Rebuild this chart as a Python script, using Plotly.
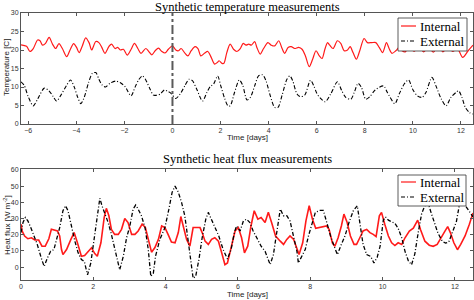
import plotly.graph_objects as go

# ---------------- data ----------------
# Top panel: temperature [C] vs time [days]
t_int = [-6.3, -6.07, -5.93, -5.79, -5.61, -5.51, -5.40, -5.28, -5.13, -4.99, -4.86, -4.72, -4.58,
         -4.40, -4.26, -4.11, -3.99, -3.88, -3.75, -3.61, -3.47, -3.36, -3.19, -3.06, -2.94, -2.81,
         -2.64, -2.53, -2.39, -2.28, -2.17, -2.04, -1.88, -1.72, -1.58, -1.44, -1.31, -1.11, -1.00,
         -0.86, -0.72, -0.58, -0.44, -0.31, -0.17, 0.0, 0.14, 0.25, 0.36, 0.50, 0.64, 0.78, 0.94,
         1.06, 1.18, 1.33, 1.47, 1.61, 1.75, 1.86, 1.94, 2.06, 2.14, 2.26, 2.40, 2.54, 2.68, 2.82,
         2.94, 3.06, 3.17, 3.28, 3.42, 3.51, 3.65, 3.79, 3.97, 4.11, 4.25, 4.42, 4.56, 4.67, 4.81,
         4.94, 5.08, 5.25, 5.39, 5.53, 5.69, 5.83, 5.97, 6.11, 6.22, 6.34, 6.45, 6.54, 6.68, 6.86,
         7.00, 7.14, 7.28, 7.39, 7.51, 7.65, 7.79, 7.97, 8.11, 8.29, 8.46, 8.60, 8.74, 8.90, 9.01,
         9.13, 9.29, 9.43, 9.55, 9.68, 9.85, 10.05, 10.25, 10.45, 10.65, 10.85, 11.05, 11.25,
         11.45, 11.65, 11.85, 12.07, 12.3, 12.5]
temp_int = [21.4, 21.0, 19.6, 20.4, 22.7, 22.5, 21.3, 21.8, 23.4, 21.6, 20.4, 21.7, 20.4,
            18.2, 20.0, 21.7, 20.7, 19.3, 21.1, 23.3, 22.0, 20.0, 22.3, 22.0, 20.7, 19.1,
            21.0, 21.6, 20.4, 20.7, 20.0, 20.2, 18.6, 20.2, 21.8, 20.4, 19.1, 20.4, 19.7,
            18.7, 19.8, 20.5, 19.6, 19.2, 20.2, 21.1, 20.0, 19.8, 20.4, 19.3, 18.4, 19.8, 20.9,
            20.4, 18.4, 19.1, 19.6, 18.0, 16.2, 16.6, 17.1, 16.4, 16.4, 19.3, 21.6, 20.2, 19.6, 20.4,
            21.8, 21.3, 21.6, 21.3, 22.3, 20.7, 18.9, 20.4, 22.0, 21.3, 21.1, 22.5, 20.4, 19.1, 20.7,
            20.9, 20.4, 20.7, 20.2, 18.4, 15.5, 17.5, 19.8, 18.4, 17.7, 20.2, 22.0, 21.3, 20.4, 22.5,
            21.8, 19.8, 20.0, 20.9, 19.3, 17.5, 19.8, 23.1, 22.0, 22.0, 22.0, 20.7, 19.3, 22.0, 20.4,
            19.1, 19.8, 20.7, 19.8, 19.5, 21.0, 19.6, 21.0, 19.5, 20.8, 19.4, 21.0, 19.5,
            20.8, 19.6, 20.4, 18.0, 19.8, 21.3]

t_ext = [-6.3, -6.17, -6.00, -5.79, -5.61, -5.33, -5.14, -4.96, -4.82, -4.64, -4.40, -4.24, -4.08,
         -3.94, -3.81, -3.67, -3.50, -3.33, -3.19, -3.06, -2.92, -2.78, -2.60, -2.36, -2.18, -1.97,
         -1.72, -1.56, -1.39, -1.25, -1.11, -0.93, -0.79, -0.65, -0.51, -0.33, -0.19, -0.06, 0.0,
         0.14, 0.32, 0.53, 0.69, 0.83, 1.01, 1.25, 1.43, 1.57, 1.71, 1.88, 2.01, 2.17, 2.31, 2.40,
         2.58, 2.78, 2.92, 3.10, 3.24, 3.42, 3.58, 3.75, 3.89, 4.07, 4.25, 4.39, 4.56, 4.76, 4.88,
         5.00, 5.18, 5.32, 5.50, 5.74, 5.88, 6.01, 6.15, 6.35, 6.58, 6.86, 7.04, 7.21, 7.42, 7.56,
         7.72, 7.86, 8.04, 8.21, 8.43, 8.78, 8.94, 9.25, 9.43, 9.64, 9.82, 9.99, 10.19, 10.38,
         10.54, 10.79, 10.96, 11.17, 11.38, 11.58, 11.79, 11.90, 12.04, 12.18, 12.35, 12.5]
temp_ext = [11.4, 10.5, 7.4, 4.9, 6.7, 9.7, 9.0, 7.4, 6.2, 7.8, 10.5, 11.9, 9.9,
            7.2, 5.5, 7.2, 11.0, 13.7, 13.9, 12.1, 10.5, 10.0, 11.0, 11.6, 11.2, 10.1,
            7.6, 9.9, 12.1, 13.0, 11.9, 9.4, 7.8, 7.8, 8.1, 9.2, 8.8, 8.3, 7.8,
            6.9, 8.1, 10.5, 12.1, 11.7, 9.4, 6.2, 8.5, 10.1, 10.8, 13.0, 10.3, 6.9, 4.9, 4.9,
            8.5, 11.9, 10.5, 6.5, 7.2, 10.3, 13.0, 13.3, 11.7, 7.6, 4.5, 4.5, 7.8, 12.1, 13.0,
            11.7, 8.1, 7.4, 7.8, 11.8, 10.3, 8.2, 7.0, 6.0, 8.1, 11.4, 9.0, 7.2, 6.7, 8.5,
            11.0, 9.9, 6.7, 7.4, 9.2, 10.3, 8.5, 5.5, 8.1, 10.8, 11.9, 9.4, 7.6, 7.2,
            8.5, 12.6, 10.3, 6.9, 4.9, 7.2, 8.5, 9.0, 7.2, 4.5, 3.1, 2.7]

event_day = 0  # vertical marker in the temperature panel

# Bottom panel: heat flux [W m^-2] vs time [days]
t_qint = [0.0, 0.03, 0.10, 0.19, 0.29, 0.38, 0.49, 0.58, 0.67, 0.77, 0.84, 0.93, 1.01, 1.07, 1.12,
          1.16, 1.26, 1.38, 1.47, 1.56, 1.67, 1.76, 1.86, 1.95, 2.04, 2.11, 2.21, 2.30, 2.36, 2.43,
          2.50, 2.59, 2.69, 2.78, 2.87, 2.96, 3.06, 3.15, 3.24, 3.35, 3.44, 3.54, 3.61, 3.70, 3.80,
          3.89, 3.98, 4.07, 4.16, 4.26, 4.35, 4.42, 4.49, 4.58, 4.67, 4.76, 4.86, 4.95, 5.01, 5.09,
          5.18, 5.27, 5.36, 5.46, 5.55, 5.64, 5.71, 5.83, 5.92, 6.01, 6.10, 6.18, 6.27, 6.36, 6.45,
          6.55, 6.64, 6.75, 6.84, 6.93, 7.04, 7.17, 7.26, 7.35, 7.44, 7.54, 7.63, 7.69, 7.79, 7.88,
          7.97, 8.06, 8.15, 8.27, 8.37, 8.45, 8.52, 8.61, 8.68, 8.77, 8.86, 8.93, 9.02, 9.11, 9.21,
          9.28, 9.37, 9.46, 9.56, 9.65, 9.74, 9.82, 9.91, 9.97, 10.06, 10.16, 10.25, 10.34, 10.43,
          10.53, 10.62, 10.74, 10.85, 10.97, 11.05, 11.17, 11.29, 11.40, 11.51, 11.61, 11.72, 11.80,
          11.88, 11.97, 12.07, 12.16, 12.28, 12.40, 12.5]
q_int = [26.5, 22.3, 19.2, 17.5, 18.1, 16.7, 16.7, 12.9, 12.9, 17.5, 23.3, 22.7, 22.3, 19.2, 10.8,
         7.7, 10.8, 17.1, 21.3, 15.0, 6.7, 7.1, 9.8, 11.9, 8.3, 6.7, 15.0, 30.6, 36.3, 31.7,
         23.3, 20.2, 20.2, 23.3, 30.0, 27.5, 20.2, 20.2, 22.3, 26.5, 24.4, 16.0, 9.2, 11.9, 17.1,
         25.4, 24.4, 20.0, 15.5, 15.0, 21.3, 31.2, 24.4, 17.1, 12.9, 24.4, 24.4, 24.4, 21.3, 16.0,
         14.0, 17.1, 18.1, 16.0, 8.8, 1.5, 2.5, 12.9, 22.3, 24.4, 18.1, 8.8, 12.9, 25.4, 34.8,
         29.6, 30.6, 27.5, 33.8, 27.5, 19.2, 16.0, 14.0, 17.1, 19.2, 17.1, 10.8, 7.7, 15.0, 28.5,
         37.9, 29.6, 24.0, 24.7, 24.9, 25.4, 23.3, 15.0, 12.9, 18.1, 25.4, 32.7, 27.5, 19.2, 14.0,
         14.0, 18.1, 22.3, 23.3, 21.3, 20.2, 18.8, 31.7, 33.8, 26.5, 19.2, 15.0, 13.3, 15.0,
         14.0, 18.1, 22.3, 24.0, 29.0, 23.0, 16.0, 13.5, 12.8, 14.0, 17.5, 22.0, 25.0,
         21.0, 15.0, 10.7, 14.0, 19.2, 26.5, 33.4]

t_qext = [0.0, 0.055, 0.12, 0.19, 0.27, 0.33, 0.45, 0.56, 0.64, 0.73, 0.82, 0.91, 0.98, 1.07, 1.16,
          1.23, 1.30, 1.39, 1.49, 1.58, 1.67, 1.75, 1.84, 1.93, 2.02, 2.11, 2.18, 2.24, 2.32, 2.41,
          2.50, 2.59, 2.67, 2.73, 2.83, 2.92, 3.01, 3.10, 3.17, 3.24, 3.33, 3.43, 3.52, 3.59, 3.66,
          3.72, 3.84, 3.98, 4.09, 4.18, 4.26, 4.35, 4.44, 4.53, 4.63, 4.70, 4.76, 4.83, 4.92, 5.01,
          5.11, 5.18, 5.27, 5.38, 5.47, 5.59, 5.71, 5.81, 5.90, 5.96, 6.06, 6.15, 6.24, 6.33, 6.42,
          6.52, 6.64, 6.75, 6.89, 6.98, 7.07, 7.17, 7.26, 7.35, 7.44, 7.54, 7.63, 7.67, 7.77, 7.86,
          7.95, 8.04, 8.14, 8.27, 8.36, 8.47, 8.56, 8.66, 8.75, 8.84, 8.96, 9.07, 9.19, 9.30, 9.37,
          9.46, 9.56, 9.67, 9.76, 9.85, 9.93, 10.02, 10.08, 10.16, 10.25, 10.34, 10.43, 10.53,
          10.62, 10.71, 10.80, 10.89, 10.99, 11.08, 11.16, 11.25, 11.35, 11.44, 11.53, 11.65,
          11.74, 11.83, 11.95, 12.04, 12.12, 12.22, 12.35, 12.5]
q_ext = [21.3, 27.5, 30.6, 28.5, 24.4, 21.3, 14.0, 5.6, 0.4, 5.6, 9.8, 10.8, 17.1, 24.4, 34.8,
         37.9, 34.8, 25.4, 16.0, 8.8, 4.6, 3.5, -4.8, 2.5, 16.0, 31.7, 42.5, 37.9, 32.7, 27.5,
         20.2, 10.8, 2.5, -1.7, 6.7, 18.1, 25.4, 35.8, 38.3, 35.8, 31.7, 24.4, 10.8, -5.8, -3.8,
         6.7, 17.1, 24.4, 35.8, 46.3, 50.0, 46.3, 40.0, 31.7, 15.0, 2.5, -6.9, -5.8, 4.6, 18.1,
         29.6, 33.8, 29.6, 24.4, 19.2, 10.8, 5.0, 10.8, 21.3, 25.4, 22.3, 28.5, 29.6, 27.5, 22.3,
         18.1, 12.9, 9.8, 1.5, 7.7, 21.3, 35.8, 31.7, 31.7, 28.5, 19.2, 9.8, 2.5, 6.7, 10.8,
         19.2, 26.5, 33.8, 35.0, 35.0, 26.5, 19.2, 12.9, 7.7, 12.9, 19.2, 27.5, 34.8, 37.9, 26.5,
         14.0, 7.7, 6.6, 2.5, 6.0, 12.8, 29.0, 31.0, 29.0, 28.0, 27.0, 24.0, 18.0,
         9.7, 4.0, 1.4, 8.0, 22.0, 33.0, 37.5, 40.0, 33.0, 27.0, 21.0, 16.0,
         14.8, 15.5, 22.0, 28.0, 38.0, 40.0, 36.0, 31.0]

temp_ticks = [0, 5, 10, 15, 20, 25, 30]
temp_days = [-6, -4, -2, 0, 2, 4, 6, 8, 10, 12]
flux_ticks = [0, 10, 20, 30, 40, 50, 60]
flux_days = [0, 2, 4, 6, 8, 10, 12]
series_names = ["Internal", "External"]

# ---------------- figure ----------------
RED = "#ff1a1a"
DASHDOT = "4px,2px,1px,2px"
SERIF = "Liberation Serif, Times New Roman, serif"
SANS = "Liberation Sans, Arial, sans-serif"

# pixel geometry of the page (474 x 300) -> paper coordinates
L, R, T, B = 21, 473, 13, 280
def px(xp):
    return (xp - L) / (R - L)
def py(yp):
    return (B - yp) / (B - T)

fig = go.Figure()
fig.add_trace(go.Scatter(x=t_int, y=temp_int, name=series_names[0], mode="lines",
                         line=dict(color=RED, width=1.2, shape="spline", smoothing=0.8),
                         xaxis="x", yaxis="y"))
fig.add_trace(go.Scatter(x=t_ext, y=temp_ext, name=series_names[1], mode="lines",
                         line=dict(color="black", width=1.1, dash=DASHDOT, shape="spline", smoothing=0.8),
                         xaxis="x", yaxis="y"))
fig.add_trace(go.Scatter(x=t_qint, y=q_int, name=series_names[0], mode="lines",
                         line=dict(color=RED, width=1.6),
                         xaxis="x2", yaxis="y2"))
fig.add_trace(go.Scatter(x=t_qext, y=q_ext, name=series_names[1], mode="lines",
                         line=dict(color="black", width=1.3, dash=DASHDOT),
                         xaxis="x2", yaxis="y2"))

shapes = [dict(type="line", xref="x", yref="y domain", x0=event_day, x1=event_day, y0=0, y1=1,
               line=dict(color="#5a5a5a", width=2, dash="dashdot"))]
annotations = []

# legends drawn as boxes (one per panel)
for (bx0, bx1, by0, by1, rows) in [(398, 467, 18, 51, (26, 41)), (398, 466, 175, 206, (182, 197))]:
    shapes.append(dict(type="rect", xref="paper", yref="paper", x0=px(bx0), x1=px(bx1),
                       y0=py(by1), y1=py(by0), fillcolor="white",
                       line=dict(color="#333", width=0.8), layer="above"))
    for name, yrow, col, dash in [(series_names[0], rows[0], RED, "solid"),
                                  (series_names[1], rows[1], "black", DASHDOT)]:
        shapes.append(dict(type="line", xref="paper", yref="paper", x0=px(401), x1=px(416),
                           y0=py(yrow), y1=py(yrow), layer="above",
                           line=dict(color=col, width=1.2, dash=dash)))
        annotations.append(dict(text=name, xref="paper", yref="paper", x=px(418), y=py(yrow),
                                xanchor="left", yanchor="middle", showarrow=False,
                                font=dict(family=SERIF, size=13, color="black")))

annotations += [
    dict(text="Synthetic temperature measurements", xref="paper", yref="paper", x=0.5, y=py(7),
         xanchor="center", yanchor="middle", showarrow=False,
         font=dict(family=SERIF, size=12.5, color="black")),
    dict(text="Synthetic heat flux measurements", xref="paper", yref="paper", x=0.5, y=py(159),
         xanchor="center", yanchor="middle", showarrow=False,
         font=dict(family=SERIF, size=12.5, color="black")),
    dict(text="Temperature [C]", xref="paper", yref="paper", x=px(7), y=py(68), textangle=-90,
         xanchor="center", yanchor="middle", showarrow=False,
         font=dict(family=SANS, size=8, color="#222")),
    dict(text="Heat flux [W m<sup>-2</sup>]", xref="paper", yref="paper", x=px(7), y=py(225),
         textangle=-90, xanchor="center", yanchor="middle", showarrow=False,
         font=dict(family=SANS, size=8, color="#222")),
    dict(text="Time [days]", xref="paper", yref="paper", x=0.5, y=py(137),
         xanchor="center", yanchor="middle", showarrow=False,
         font=dict(family=SANS, size=8, color="#222")),
    dict(text="Time [days]", xref="paper", yref="paper", x=0.5, y=py(294),
         xanchor="center", yanchor="middle", showarrow=False,
         font=dict(family=SANS, size=8, color="#222")),
]

axis_common = dict(showline=True, linecolor="#555", linewidth=1, mirror="ticks",
                   ticks="inside", ticklen=3, tickcolor="#555", showgrid=False, zeroline=False,
                   automargin=False,
                   tickfont=dict(family=SANS, size=7, color="#333"))

TOP_DOM = [py(124), 1.0]
BOT_DOM = [0.0, py(169)]

fig.update_layout(
    width=474, height=300,
    margin=dict(l=L, r=474 - R, t=T, b=300 - B, autoexpand=False),
    paper_bgcolor="white", plot_bgcolor="white",
    showlegend=False,
    xaxis=dict(domain=[0, 1], range=[-6.3, 12.5], tickvals=temp_days, anchor="y", **axis_common),
    yaxis=dict(domain=TOP_DOM, range=[0, 30], tickvals=temp_ticks, anchor="x", **axis_common),
    xaxis2=dict(domain=[0, 1], range=[0, 12.5], tickvals=flux_days, anchor="y2", **axis_common),
    yaxis2=dict(domain=BOT_DOM, range=[-8, 60.6], tickvals=flux_ticks, anchor="x2", **axis_common),
    shapes=shapes,
    annotations=annotations,
)

fig.write_html("out.html", config={"displayModeBar": False, "staticPlot": True},
               post_script="document.body.style.margin='0';document.body.style.overflow='hidden';")
